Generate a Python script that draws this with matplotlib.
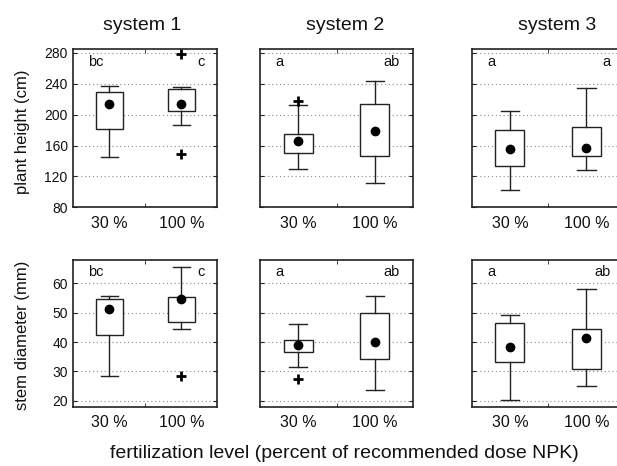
import matplotlib
matplotlib.use("Agg")
import matplotlib.pyplot as plt

plt.rcParams['font.family'] = ['Liberation Sans', 'DejaVu Sans']

# Data
systems = ["system 1", "system 2", "system 3"]
levels = ["30 %", "100 %"]

height_whislo = [[145, 186], [129, 111], [102, 128]]
height_q1 = [[181, 205], [150, 147], [133, 147]]
height_q3 = [[229, 233], [175, 214], [180, 184]]
height_whishi = [[237, 236], [212, 244], [205, 235]]
height_mean = [[214, 214], [166, 179], [155, 157]]
height_fliers = [[[], [279, 149]], [[218], []], [[], []]]
height_letters = [["bc", "c"], ["a", "ab"], ["a", "a"]]

diam_whislo = [[28.5, 44.6], [31.7, 23.6], [20.3, 25.2]]
diam_q1 = [[42.4, 46.8], [36.7, 34.4], [33.2, 30.8]]
diam_q3 = [[54.7, 55.5], [40.9, 49.8], [46.6, 44.4]]
diam_whishi = [[55.9, 65.5], [46.3, 55.7], [49.1, 58.0]]
diam_mean = [[51.4, 54.6], [39.0, 40.0], [38.3, 41.4]]
diam_fliers = [[[], [28.6]], [[27.4], []], [[], []]]
diam_letters = [["bc", "c"], ["a", "ab"], ["a", "ab"]]

height_ticks = [80, 120, 160, 200, 240, 280]
diam_ticks = [20, 30, 40, 50, 60]

W, H = 617, 466
fig = plt.figure(figsize=(W / 100, H / 100), dpi=100)

# panel geometry in pixels
col_left = [73.3, 260, 471.7]
col_width = [144, 153, 153]
row_top = [49, 260]
row_bottom = [207.3, 406.7]

ink = '#222222'


def make_stats(whislo, q1, q3, whishi, mean, fliers):
    stats = []
    for i in range(2):
        stats.append(dict(whislo=whislo[i], q1=q1[i], med=mean[i], q3=q3[i],
                          whishi=whishi[i], mean=mean[i], fliers=fliers[i]))
    return stats


rows = [
    (height_whislo, height_q1, height_q3, height_whishi, height_mean, height_fliers,
     height_letters, height_ticks, (80, 285)),
    (diam_whislo, diam_q1, diam_q3, diam_whishi, diam_mean, diam_fliers,
     diam_letters, diam_ticks, (18, 68)),
]

for r, (wlo, q1, q3, whi, mn, fl, letters, ticks, ylim) in enumerate(rows):
    for c in range(3):
        rect = [col_left[c] / W, 1 - row_bottom[r] / H,
                col_width[c] / W, (row_bottom[r] - row_top[r]) / H]
        ax = fig.add_axes(rect)
        stats = make_stats(wlo[c], q1[c], q3[c], whi[c], mn[c], fl[c])
        ax.bxp(stats, positions=[1, 2], widths=0.38, capwidths=0.24,
               showmeans=True, patch_artist=True,
               boxprops=dict(facecolor='white', edgecolor=ink, linewidth=1.0),
               whiskerprops=dict(color=ink, linewidth=1.0),
               capprops=dict(color=ink, linewidth=1.0),
               medianprops=dict(linewidth=0),
               meanprops=dict(marker='o', markerfacecolor='black',
                              markeredgecolor='black', markersize=6),
               flierprops=dict(marker='+', markeredgecolor='black',
                               markersize=7, markeredgewidth=2))
        ax.set_xlim(0.5, 2.5)
        ax.set_ylim(*ylim)
        ax.set_yticks(ticks)
        ax.yaxis.grid(True, linestyle=(0, (1, 2.5)), color='#8c8c8c', linewidth=0.8)
        ax.set_axisbelow(True)
        ax.set_xticks([1, 2])
        ax.set_xticklabels(levels, fontsize=11.5, color='#111111')
        ax.set_xticks([1.5], minor=True)
        ax.tick_params(axis='x', which='major', length=0, pad=6)
        ax.tick_params(axis='x', which='minor', direction='in', length=3,
                       top=True, bottom=True, color=ink)
        ax.tick_params(axis='y', direction='in', length=3, left=True, right=True,
                       labelsize=10, pad=4, color=ink, labelcolor='#111111')
        if c > 0:
            ax.tick_params(axis='y', labelleft=False)
        for sp in ax.spines.values():
            sp.set_color(ink)
            sp.set_linewidth(1.2)
        ax.text(0.1, 0.92, letters[c][0], transform=ax.transAxes,
                ha='left', va='center', fontsize=10.5, color='#111111')
        ax.text(0.91, 0.92, letters[c][1], transform=ax.transAxes,
                ha='right', va='center', fontsize=10.5, color='#111111')

title_x = [141.7, 345.5, 556.7]
for c in range(3):
    fig.text(title_x[c] / W, 1 - 25 / H, systems[c], ha='center', va='center',
             fontsize=14, color='#111111')

fig.text(23 / W, 1 - 132 / H, "plant height (cm)", rotation=90,
         ha='center', va='center', fontsize=12, color='#111111')
fig.text(23 / W, 1 - 335 / H, "stem diameter (mm)", rotation=90,
         ha='center', va='center', fontsize=12, color='#111111')
fig.text(344 / W, 1 - 454 / H, "fertilization level (percent of recommended dose NPK)",
         ha='center', va='center', fontsize=14, color='#111111')

fig.savefig('out.png', dpi=100)
